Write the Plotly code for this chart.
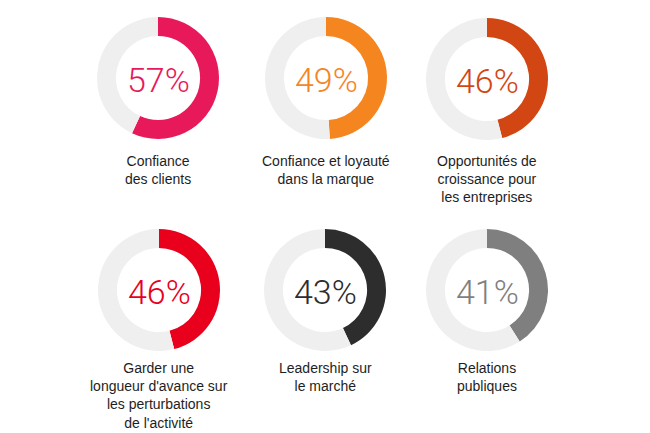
import plotly.graph_objects as go

labels = ["Confiance<br>des clients",
          "Confiance et loyauté<br>dans la marque",
          "Opportunités de<br>croissance pour<br>les entreprises",
          "Garder une<br>longueur d'avance sur<br>les perturbations<br>de l'activité",
          "Leadership sur<br>le marché",
          "Relations<br>publiques"]
percents = [57, 49, 46, 46, 43, 41]
colors = ["#E8195A", "#F5851F", "#D24614", "#E8001C", "#2D2D2D", "#7F7F7F"]
track_color = "#EFEFEF"

W, H = 650, 433
OFF = 8  # page body margin
centers_x = [158, 326, 487, 159, 325, 487]
centers_y = [78, 78, 79, 290, 290, 290]
label_top = [151, 151, 151, 358, 358, 358]
R = 61

fig = go.Figure()
for i, p in enumerate(percents):
    cx, cy = centers_x[i] - OFF, centers_y[i] - OFF
    fig.add_trace(go.Pie(
        values=[p, 100 - p],
        marker=dict(colors=[colors[i], track_color], line=dict(width=0)),
        hole=0.69, sort=False, direction="clockwise", rotation=0,
        textinfo="none", hoverinfo="skip", showlegend=False,
        domain=dict(x=[(cx - R) / W, (cx + R) / W],
                    y=[1 - (cy + R) / H, 1 - (cy - R) / H]),
    ))
    fig.add_annotation(x=cx / W, y=1 - (cy + 2) / H, xref="paper", yref="paper",
                       text=f"{p}%", showarrow=False, xanchor="center", yanchor="middle",
                       font=dict(family="Roboto", size=34, color=colors[i], weight=300))
    fig.add_annotation(x=cx / W, y=1 - (label_top[i] - OFF) / H, xref="paper", yref="paper",
                       text=labels[i], showarrow=False, xanchor="center", yanchor="top",
                       align="center",
                       font=dict(family="Liberation Sans", size=14, color="#1E1E1E"))

fig.update_layout(width=W, height=H, margin=dict(l=0, r=0, t=0, b=0),
                  paper_bgcolor="white", plot_bgcolor="white")
fig.write_html("out.html")
